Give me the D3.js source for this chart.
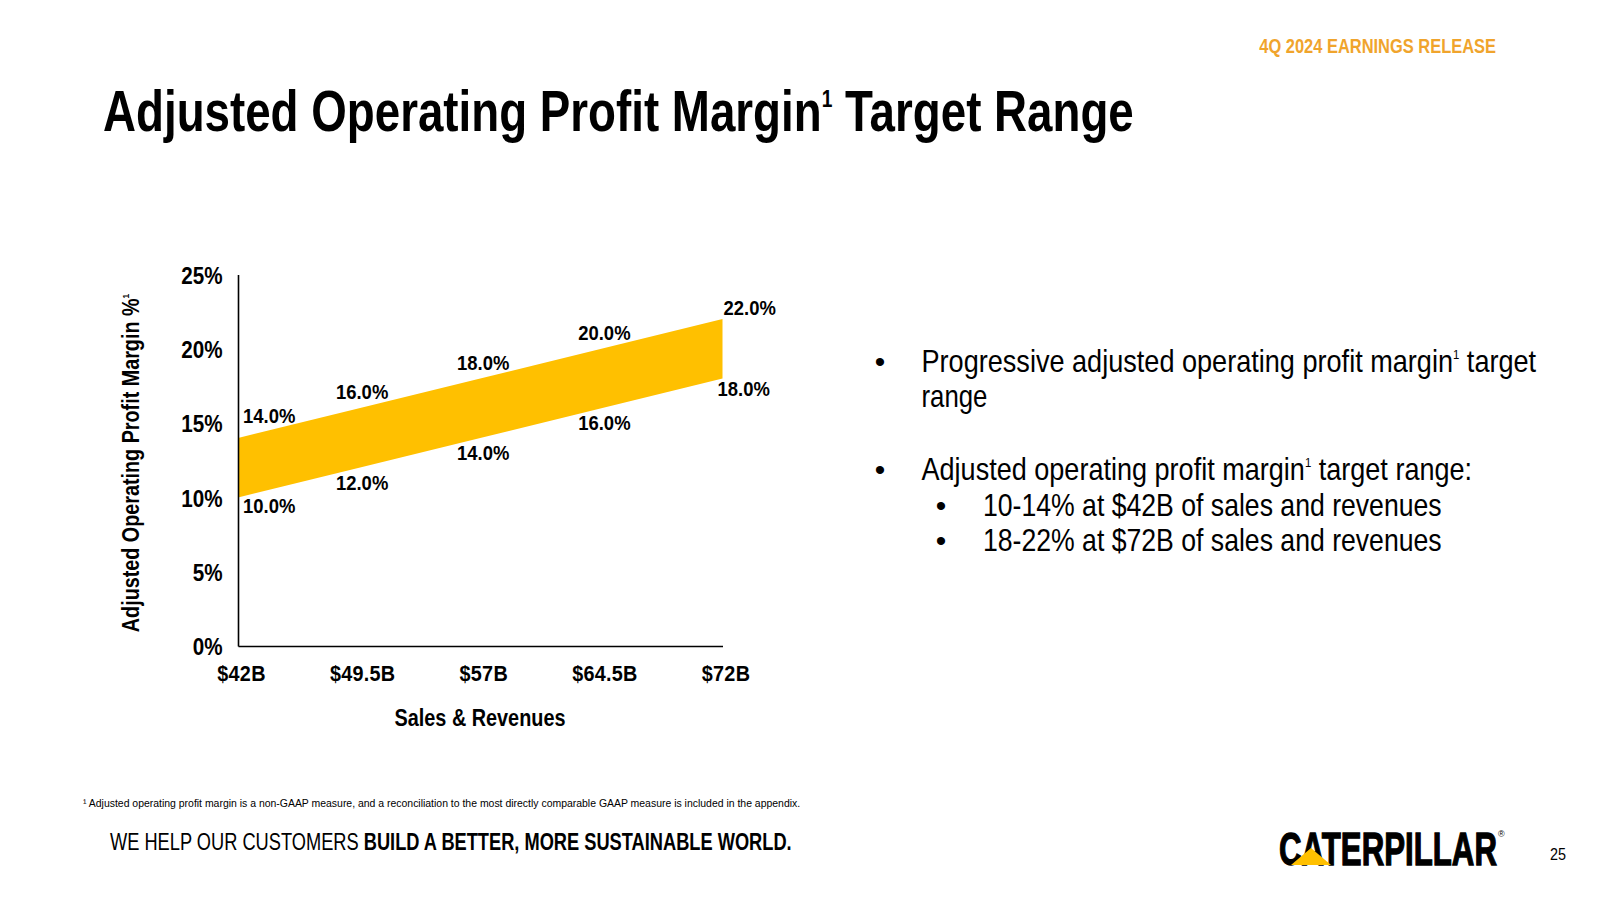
<!DOCTYPE html>
<html><head><meta charset="utf-8">
<script src="https://cdn.jsdelivr.net/npm/d3@7"></script>
<style>
html,body{margin:0;padding:0;background:#fff;}
svg{display:block;font-family:"Liberation Sans",Arial,sans-serif;}
</style></head><body>
<svg id="c" width="1600" height="900"></svg>
<script>
// ---------- data ----------
const categories = [42, 49.5, 57, 64.5, 72];
const categoryLabels = ["$42B", "$49.5B", "$57B", "$64.5B", "$72B"];
const upperValues = [14, 16, 18, 20, 22];
const lowerValues = [10, 12, 14, 16, 18];
const upperLabels = ["14.0%", "16.0%", "18.0%", "20.0%", "22.0%"];
const lowerLabels = ["10.0%", "12.0%", "14.0%", "16.0%", "18.0%"];
const yTicks = [0, 5, 10, 15, 20, 25];
const yTickLabels = ["0%", "5%", "10%", "15%", "20%", "25%"];

const titleParts = [{t:"Adjusted Operating Profit Margin"},{t:"1",sup:true},{t:" Target Range"}];
const headerText = "4Q 2024 EARNINGS RELEASE";
const yTitleParts = [{t:"Adjusted Operating Profit Margin %"},{t:"1",sup:true}];
const xTitle = "Sales & Revenues";
const bulletLines = [
  {level:1, bullet:true, parts:[{t:"Progressive adjusted operating profit margin"},{t:"1",sup:true},{t:" target"}]},
  {level:1, bullet:false, parts:[{t:"range"}]},
  {level:1, bullet:true, parts:[{t:"Adjusted operating profit margin"},{t:"1",sup:true},{t:" target range:"}]},
  {level:2, bullet:true, parts:[{t:"10-14% at $42B of sales and revenues"}]},
  {level:2, bullet:true, parts:[{t:"18-22% at $72B of sales and revenues"}]}
];
const footnote = "¹ Adjusted operating profit margin is a non-GAAP measure, and a reconciliation to the most directly comparable GAAP measure is included in the appendix.";
const taglineParts = [{t:"WE HELP OUR CUSTOMERS "},{t:"BUILD A BETTER, MORE SUSTAINABLE WORLD.",bold:true}];
const pageNumber = "25";

// ---------- helpers ----------
const svg = d3.select("#c");
const GOLD = "#FFC000";
const ORANGE = "#F0A42C";

function addText(parent, o) {
  const size = o.size;
  const t = parent.append("text")
    .attr("font-size", size)
    .attr("font-weight", o.weight || "normal")
    .attr("fill", o.fill || "#000")
    .attr("text-anchor", o.anchor || "start");
  if (o.ls) t.attr("letter-spacing", o.ls);
  const parts = o.parts || [{t:o.text}];
  let raised = false;
  parts.forEach(p => {
    const ts = t.append("tspan").text(p.t);
    if (p.bold) ts.attr("font-weight", "bold");
    if (p.sup) {
      ts.attr("font-size", size * 0.42).attr("dy", -size * 0.42);
      raised = true;
    } else if (raised) {
      ts.attr("dy", size * 0.42);
      raised = false;
    }
  });
  let sx = o.sx || 0.82;
  if (o.width) sx = o.width / t.node().getBBox().width;
  t.attr("transform", `translate(${o.x},${o.y})` + (o.rotate ? ` rotate(${o.rotate})` : "") + ` scale(${sx},1)`);
  t.sx = sx;
  return t;
}

// ---------- header / title ----------
addText(svg, {x:1496, y:53, anchor:"end", size:20, weight:"bold", fill:ORANGE, text:headerText, width:237});
addText(svg, {x:103, y:131, size:57, weight:"bold", parts:titleParts, width:1031});

// ---------- chart ----------
const x = d3.scaleLinear().domain([42, 72]).range([238, 722.5]);
const y = d3.scaleLinear().domain([0, 25]).range([646, 274.5]);

const band = categories.map((c, i) => ({x:c, lo:lowerValues[i], hi:upperValues[i]}));
svg.append("path")
  .datum(band)
  .attr("fill", GOLD)
  .attr("d", d3.area().x(d => x(d.x)).y0(d => y(d.lo)).y1(d => y(d.hi)));

const gy = svg.append("g").attr("transform", `translate(${x(42)},0)`)
  .call(d3.axisLeft(y).tickValues(yTicks).tickFormat((d,i) => yTickLabels[i]).tickSize(0));
gy.select(".domain").attr("stroke", "#000").attr("stroke-width", 1.6);
gy.selectAll(".tick text")
  .attr("x", 0).attr("dy", null)
  .attr("font-size", 24).attr("font-weight", "bold").attr("fill", "#000")
  .attr("font-family", "Liberation Sans, Arial, sans-serif")
  .attr("text-anchor", "end")
  .attr("transform", "translate(-15.5,8.6) scale(0.86,1)");

const gx = svg.append("g").attr("transform", `translate(0,${y(0)})`)
  .call(d3.axisBottom(x).tickValues(categories).tickFormat((d,i) => categoryLabels[i]).tickSize(0));
gx.select(".domain").attr("stroke", "#000").attr("stroke-width", 1.6);
gx.selectAll(".tick text")
  .attr("y", 0).attr("dy", null)
  .attr("font-size", 22.5).attr("font-weight", "bold").attr("fill", "#000")
  .attr("font-family", "Liberation Sans, Arial, sans-serif")
  .attr("letter-spacing", 0.3)
  .attr("text-anchor", "middle")
  .attr("transform", "translate(3,35) scale(0.88,1)");

// data labels
const n = categories.length;
categories.forEach((c, i) => {
  const first = i === 0, last = i === n - 1;
  const ux = first ? x(c) + 5 : last ? x(c) + 1 : x(c) + 3;
  const lx = first ? x(c) + 5 : last ? x(c) - 5 : x(c) + 3;
  const anchor = (first || last) ? "start" : "middle";
  const uOff = first ? -15 : last ? -4 : -9;
  const lOff = first ? 16 : last ? 17 : 22;
  addText(svg, {x:ux, y:y(upperValues[i]) + uOff, anchor, size:20.5, weight:"bold", text:upperLabels[i], sx:0.9});
  addText(svg, {x:lx, y:y(lowerValues[i]) + lOff, anchor, size:20.5, weight:"bold", text:lowerLabels[i], sx:0.9});
});

// axis titles
addText(svg, {x:480, y:726, anchor:"middle", size:23, weight:"bold", text:xTitle, width:171});
addText(svg, {x:139, y:463, anchor:"middle", size:23, weight:"bold", parts:yTitleParts, rotate:-90, width:339});

// ---------- bullets ----------
const bulletY = [372, 407, 480, 515.5, 551];
const bulletW = [615, 66, 551, 459, 459];
bulletLines.forEach((l, i) => {
  const tx = l.level === 1 ? 921.5 : 983;
  const bx = l.level === 1 ? 880 : 941;
  if (l.bullet) addText(svg, {x:bx, y:bulletY[i], size:30, text:"•", anchor:"middle", sx:1});
  addText(svg, {x:tx, y:bulletY[i], size:31, parts:l.parts, width:bulletW[i]});
});

// ---------- footer ----------
addText(svg, {x:83, y:807, size:11, text:footnote, width:718});
addText(svg, {x:110, y:850, size:23, parts:taglineParts, width:682});

// logo
const logo = svg.append("g");
const lt = addText(logo, {x:1279, y:865, size:47, weight:"bold", text:"CATERPILLAR", width:218});
lt.attr("stroke", "#000").attr("stroke-width", 1.3);
logo.append("path")
  .attr("d", "M1291,865 L1311,848 L1331,865 Z")
  .attr("fill", GOLD);
addText(logo, {x:1498, y:837, size:9, text:"®", sx:1});
addText(svg, {x:1558, y:860, anchor:"middle", size:16, text:pageNumber, sx:0.9});
</script>
</body></html>
